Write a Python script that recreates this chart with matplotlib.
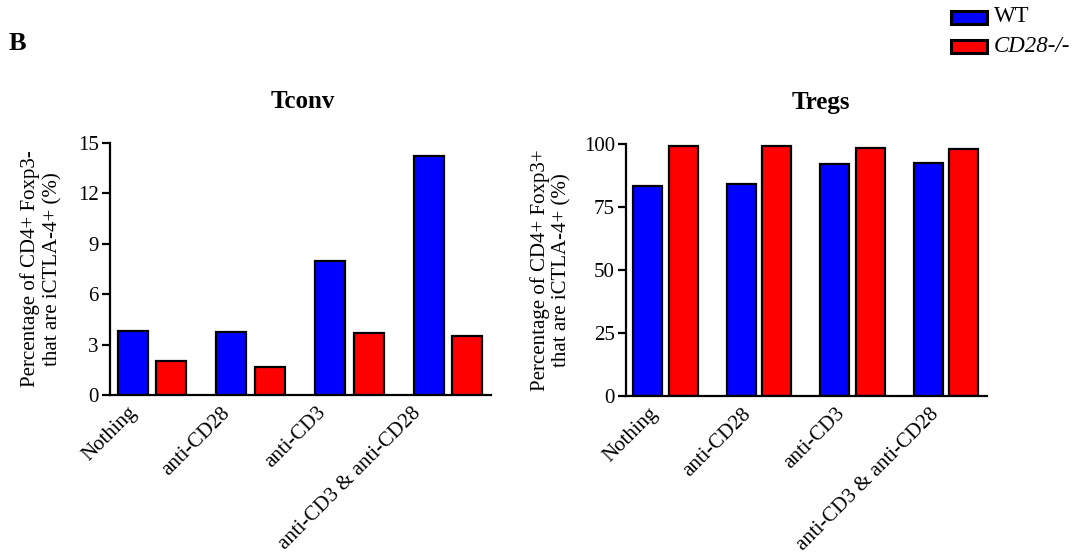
import matplotlib
matplotlib.use("Agg")
import matplotlib.pyplot as plt
import matplotlib.transforms as mtransforms
import numpy as np
from matplotlib.patches import Rectangle

plt.rcParams['font.family'] = ['Liberation Serif', 'DejaVu Serif']

categories = ["Nothing", "anti-CD28", "anti-CD3", "anti-CD3 & anti-CD28"]
series_names = ["WT", "CD28-/-"]
tconv_wt = [3.8, 3.76, 7.97, 14.2]
tconv_ko = [2.02, 1.66, 3.7, 3.53]
tregs_wt = [83.3, 84.0, 92.1, 92.3]
tregs_ko = [99.3, 99.1, 98.5, 98.0]
tconv_ticks = [0, 3, 6, 9, 12, 15]
tregs_ticks = [0, 25, 50, 75, 100]

BLUE = "#0000ff"
RED = "#ff0000"

W, H = 1081, 556
fig = plt.figure(figsize=(W / 100, H / 100), dpi=100)


def px_axes(x0, x1, ytop, ybot):
    return fig.add_axes([x0 / W, 1 - ybot / H, (x1 - x0) / W, (ybot - ytop) / H])


def draw_panel(ax, wt, ko, ticks, ylabel, xlim, off, width, label_shift):
    x = np.arange(len(categories))
    ax.bar(x - off, wt, width, color=BLUE, edgecolor="black", linewidth=1.6)
    ax.bar(x + off, ko, width, color=RED, edgecolor="black", linewidth=1.6)
    ax.set_xlim(*xlim)
    ax.set_ylim(0, ticks[-1])
    ax.set_yticks(ticks)
    ax.set_xticks(x)
    ax.set_xticklabels(categories, rotation=45, ha="right", rotation_mode="anchor")
    for s in ("top", "right"):
        ax.spines[s].set_visible(False)
    for s in ("left", "bottom"):
        ax.spines[s].set_linewidth(1.6)
    ax.tick_params(axis="y", length=6, width=1.6, labelsize=15, pad=2)
    ax.tick_params(axis="x", length=0, labelsize=15, pad=6)
    ax.set_ylabel(ylabel, fontsize=15, linespacing=1.2)
    # nudge the slanted category labels to the left (pixels)
    for lab, dx in zip(ax.get_xticklabels(), label_shift):
        lab.set_transform(lab.get_transform() +
                          mtransforms.ScaledTranslation(dx / 100, 0, fig.dpi_scale_trans))


ax1 = px_axes(110, 491, 143, 395)
draw_panel(ax1, tconv_wt, tconv_ko, tconv_ticks,
           "Percentage of CD4+ Foxp3-\nthat are iCTLA-4+ (%)",
           (-0.425, 3.436), 0.195, 0.304, [-25, -30, -33, -37])
ax1.yaxis.set_label_coords(-0.126, 0.5)

ax2 = px_axes(626, 987, 144, 396)
draw_panel(ax2, tregs_wt, tregs_ko, tregs_ticks,
           "Percentage of CD4+ Foxp3+\nthat are iCTLA-4+ (%)",
           (-0.42, 3.44), 0.19, 0.31, [-17, -17, -17, -16])
ax2.yaxis.set_label_coords(-0.15, 0.5)

fig.text(303 / W, 1 - 102 / H, "Tconv", ha="center", va="center",
         fontsize=18, fontweight="bold")
fig.text(821 / W, 1 - 102 / H, "Tregs", ha="center", va="center",
         fontsize=18, fontweight="bold")
fig.text(9 / W, 1 - 43 / H, "B", ha="left", va="center",
         fontsize=19, fontweight="bold")

# legend boxes drawn in figure pixel space
legend_rows = [(BLUE, series_names[0], "normal", 17),
               (RED, series_names[1], "italic", 46.5)]
for color, label, style, yc in legend_rows:
    fig.patches.append(Rectangle((951 / W, 1 - (yc + 6.5) / H), 36 / W, 13 / H,
                                 transform=fig.transFigure, facecolor=color,
                                 edgecolor="black", linewidth=2.2))
    fig.text(994 / W, 1 - yc / H, label, ha="left", va="center",
             fontsize=16.5, style=style)

fig.savefig("out.png", dpi=100)
